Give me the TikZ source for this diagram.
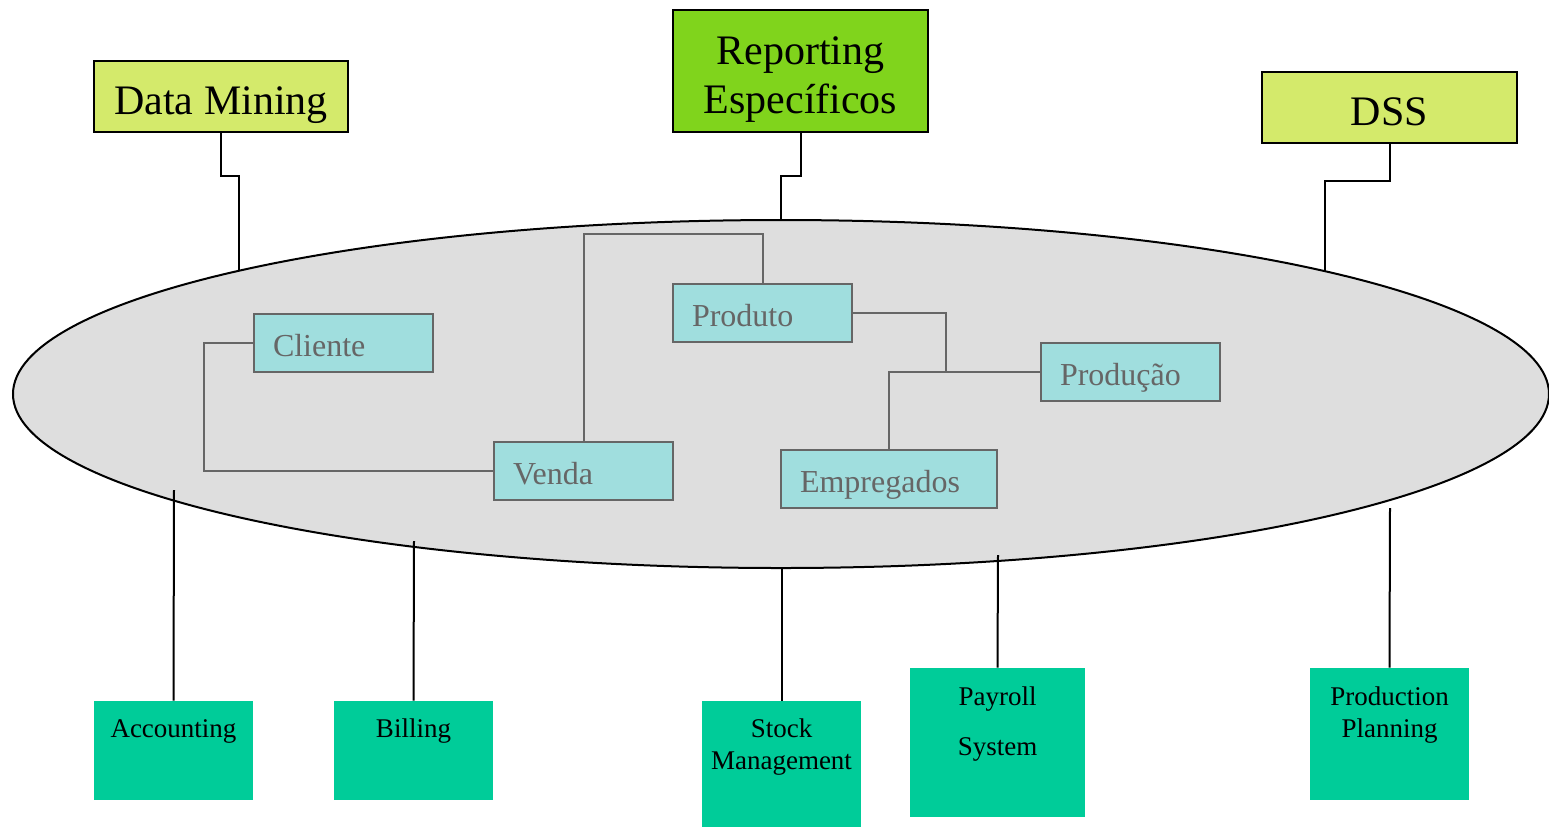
\documentclass[tikz,border=0pt]{standalone}
\usepackage{fontspec}
\setmainfont{Liberation Serif}
\usetikzlibrary{shapes.geometric}

\definecolor{limebox}{HTML}{D4EA6B}
\definecolor{greenbox}{HTML}{80D41C}
\definecolor{aquabox}{HTML}{A0DEDE}
\definecolor{seabox}{HTML}{00CC99}
\definecolor{hubgray}{HTML}{DEDEDE}
\definecolor{linegray}{HTML}{666666}

\tikzset{
  topbox/.style={draw=black, line width=1pt, inner sep=0pt, align=center,
    font=\fontsize{21}{24.5}\selectfont, text depth=0pt, text height=17.5pt},
  inbox/.style={draw=linegray, fill=aquabox, line width=1pt, text=linegray,
    inner xsep=9.5pt, inner ysep=0pt, minimum height=29pt, align=left,
    font=\fontsize{16}{19}\selectfont, text height=13pt, text depth=0pt},
  srcbox/.style={fill=seabox, draw=none, inner sep=0pt},
  srctext/.style={anchor=base, inner sep=0pt, font=\fontsize{13.5}{16}\selectfont},
  link/.style={draw=black, line width=1pt},
  relation/.style={draw=linegray, line width=1pt},
}

\begin{document}
\begin{tikzpicture}[x=0.5pt, y=-0.5pt]
\useasboundingbox (0,0) rectangle (1549,827);

% central data warehouse
\node[ellipse, draw=black, line width=1pt, fill=hubgray, inner sep=0pt,
      minimum width=768pt, minimum height=174pt] (hub) at (781,394) {};

% analysis tools on top
\node[topbox, fill=limebox, minimum width=127pt, minimum height=35.5pt] (dm) at (221,96.5) {Data Mining};
\node[topbox, fill=greenbox, minimum width=127.5pt, minimum height=61pt, text height=42pt] (rep) at (800.5,71) {Reporting\\Específicos};
\node[topbox, fill=limebox, minimum width=127.5pt, minimum height=35.5pt] (dss) at (1389.5,107.5) {DSS};

% subject areas inside the warehouse
\node[inbox, text width=70.5pt] (cli) at (343.5,343) {Cliente};
\node[inbox, text width=70.5pt] (ven) at (583.5,471) {Venda};
\node[inbox, text width=70.5pt] (pro) at (762.5,313) {Produto};
\node[inbox, text width=70.5pt] (prd) at (1130.5,372) {Produção};
\node[inbox, text width=89pt] (emp) at (889,479) {Empregados};

% operational source systems
\node[srcbox, minimum width=79.5pt, minimum height=49.5pt] (acc) at (173.5,750.5) {};
\node[srcbox, minimum width=79.5pt, minimum height=49.5pt] (bil) at (413.5,750.5) {};
\node[srcbox, minimum width=79.5pt, minimum height=63pt] (stk) at (781.5,764) {};
\node[srcbox, minimum width=87.5pt, minimum height=74.5pt] (pay) at (997.5,742.5) {};
\node[srcbox, minimum width=79.5pt, minimum height=66pt] (ppl) at (1389.5,734) {};

\node[srctext] (acct) at ([yshift=-18.5pt]acc.north) {Accounting};
\node[srctext] (bilt) at ([yshift=-18.5pt]bil.north) {Billing};
\node[srctext] (stkt) at ([yshift=-18.5pt]stk.north) {\parbox[t]{90pt}{\centering Stock\\Management}};
\node[srctext] (payt) at ([yshift=-19pt]pay.north) {\parbox[t]{90pt}{\centering Payroll\\[9pt]System}};
\node[srctext] (pplt) at ([yshift=-19pt]ppl.north) {\parbox[t]{90pt}{\centering Production\\Planning}};

% connector end points on the warehouse
\coordinate (dmend) at (239,270.8);
\coordinate (dssend) at (1325,270.8);
\coordinate (accend) at (174,490);
\coordinate (bilend) at (414,541);
\coordinate (payend) at (998,555);
\coordinate (pplend) at (1390,508);
\coordinate (jn) at (946,372);

% tools to warehouse
\draw[link] (dm.south) -- (221,176) -- (239,176) -- (dmend);
\draw[link] (rep.south) -- (800.5,176) -- (781,176) -- (hub.north);
\draw[link] (dss.south) -- (1389.5,181) -- (1325,181) -- (dssend);

% sources to warehouse
\draw[link] (acc.north) -- (accend);
\draw[link] (bil.north) -- (bilend);
\draw[link] (stk.north) -- (stk.north |- hub.south);
\draw[link] (pay.north) -- (payend);
\draw[link] (ppl.north) -- (pplend);

% relations between subject areas
\draw[relation] (cli.west) -- ++(-49,0) |- (ven.west);
\draw[relation] (ven.north) -- ++(0,-207) -| (pro.north);
\draw[relation] (pro.east) -| (jn) -- (prd.west);
\draw[relation] (emp.north) |- (jn);
\end{tikzpicture}
\end{document}
